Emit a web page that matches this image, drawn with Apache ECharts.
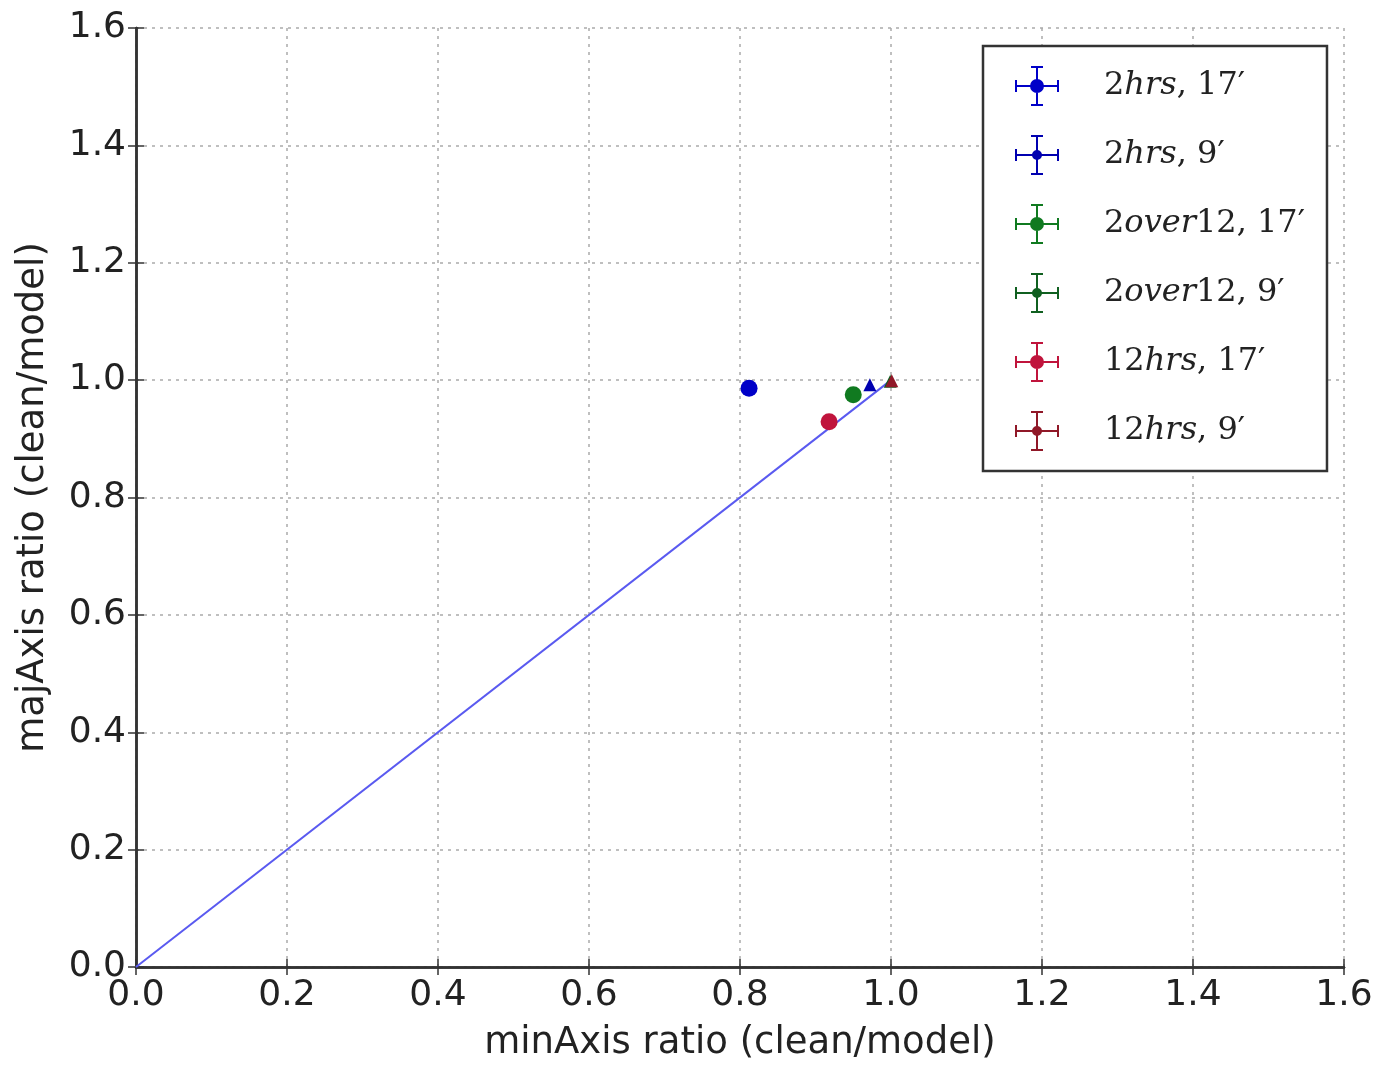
<!DOCTYPE html>
<html><head><meta charset="utf-8">
<script src="https://cdn.jsdelivr.net/npm/echarts@6/dist/echarts.min.js"></script>
<style>html,body{margin:0;padding:0;background:#fff}#c{width:1377px;height:1067px}</style>
</head><body><div id="c"></div>
<script>
const seriesNames = ['2hrs, 17′', '2hrs, 9′', '2over12, 17′', '2over12, 9′', '12hrs, 17′', '12hrs, 9′'];
const seriesColors = ['#0000c8', '#0000b0', '#107a20', '#106020', '#c0143c', '#901828'];
const minAxisRatio = [0.812, 0.972, 0.950, 0.999, 0.918, 1.001];
const majAxisRatio = [0.986, 0.992, 0.975, 0.998, 0.929, 0.999];
const identityLine = [[0, 0], [1, 1]];
const axisTicks = [0.0, 0.2, 0.4, 0.6, 0.8, 1.0, 1.2, 1.4, 1.6];

const bigIcon = 'path://M0,19 L44,19 L44,21 L0,21 Z M0,14 L2,14 L2,26 L0,26 Z M42,14 L44,14 L44,26 L42,26 Z M21,0 L23,0 L23,40 L21,40 Z M16,0 L28,0 L28,2 L16,2 Z M16,38 L28,38 L28,40 L16,40 Z M29,20 A7,7 0 1 1 15,20 A7,7 0 1 1 29,20 Z';
const smallIcon = 'path://M0,19 L44,19 L44,21 L0,21 Z M0,14 L2,14 L2,26 L0,26 Z M42,14 L44,14 L44,26 L42,26 Z M21,0 L23,0 L23,40 L21,40 Z M16,0 L28,0 L28,2 L16,2 Z M16,38 L28,38 L28,40 L16,40 Z M27,20 A5,5 0 1 1 17,20 A5,5 0 1 1 27,20 Z';

const chart = echarts.init(document.getElementById('c'), null, {renderer: 'canvas'});
const font = 'DejaVu Sans';
const series = [{
  type: 'line', data: identityLine, showSymbol: false, silent: true,
  lineStyle: {color: '#5a5af0', width: 2}, z: 1
}];
seriesNames.forEach((n, i) => {
  const big = i % 2 === 0;
  series.push({
    name: n, type: 'scatter', z: 3 + i,
    data: [[minAxisRatio[i], majAxisRatio[i]]],
    symbol: big ? 'circle' : 'triangle',
    symbolSize: big ? 17 : 13,
    itemStyle: {color: seriesColors[i], opacity: 1}
  });
});

function fmt(name) {
  return name.split(/([a-z]+)/).filter(s => s.length).map(s => /^[a-z]+$/.test(s) ? '{i|' + s + '}' : '{n|' + s + '}').join('');
}

chart.setOption({
  animation: false,
  grid: {left: 136, right: 33, top: 28, bottom: 99},
  xAxis: [{
    type: 'value', min: 0, max: 1.6, interval: 0.2,
    name: 'minAxis ratio (clean/model)', nameLocation: 'middle', nameGap: 58,
    nameTextStyle: {fontFamily: font, fontSize: 37, color: '#222'},
    axisLine: {lineStyle: {color: '#333', width: 2.5}},
    axisTick: {inside: true, length: 8, lineStyle: {color: '#333', width: 1.5}},
    axisLabel: {fontFamily: font, fontSize: 36, color: '#222', margin: 11,
      formatter: v => axisTicks.includes(+v.toFixed(1)) ? v.toFixed(1) : ''},
    splitLine: {show: true, lineStyle: {color: '#aaa', type: [3, 5], width: 1.5}}
  }, {
    type: 'value', position: 'top', min: 0, max: 1.6, interval: 0.2,
    axisLine: {lineStyle: {color: '#333', width: 2.5}},
    axisTick: {inside: true, length: 8, lineStyle: {color: '#333', width: 1.5}},
    axisLabel: {show: false}, splitLine: {show: false}
  }],
  yAxis: [{
    type: 'value', min: 0, max: 1.6, interval: 0.2,
    name: 'majAxis ratio (clean/model)', nameLocation: 'middle', nameGap: 84,
    nameTextStyle: {fontFamily: font, fontSize: 37, color: '#222'},
    axisLine: {lineStyle: {color: '#333', width: 2.5}},
    axisTick: {inside: true, length: 8, lineStyle: {color: '#333', width: 1.5}},
    axisLabel: {fontFamily: font, fontSize: 36, color: '#222', margin: 10,
      formatter: v => v.toFixed(1)},
    splitLine: {show: true, lineStyle: {color: '#aaa', type: [3, 5], width: 1.5}}
  }, {
    type: 'value', position: 'right', min: 0, max: 1.6, interval: 0.2,
    axisLine: {lineStyle: {color: '#333', width: 2.5}},
    axisTick: {inside: true, length: 8, lineStyle: {color: '#333', width: 1.5}},
    axisLabel: {show: false}, splitLine: {show: false}
  }],
  legend: {
    orient: 'vertical', left: 983, top: 46,
    padding: [20, 22, 20, 32],
    backgroundColor: '#fff', borderColor: '#333', borderWidth: 2.5,
    itemWidth: 44, itemHeight: 40, itemGap: 29,
    data: seriesNames.map((n, i) => ({name: n, icon: i % 2 === 0 ? bigIcon : smallIcon})),
    formatter: fmt,
    textStyle: {
      padding: [0, 0, 0, 40],
      rich: {
        n: {fontFamily: 'DejaVu Serif', fontSize: 32, color: '#222'},
        i: {fontFamily: 'DejaVu Serif', fontStyle: 'italic', fontSize: 32, color: '#222'}
      }
    }
  },
  series: series
});
</script></body></html>
